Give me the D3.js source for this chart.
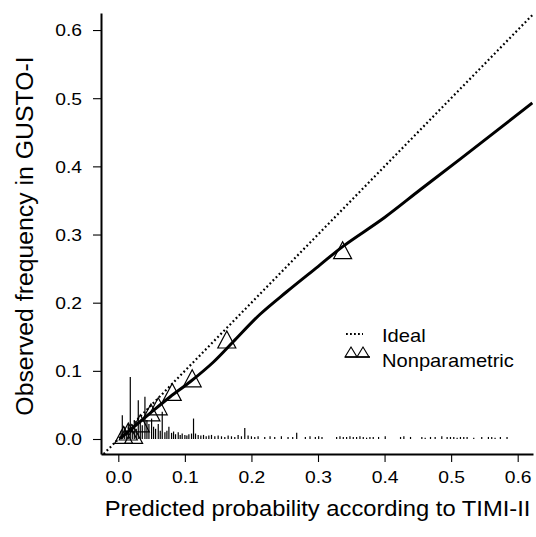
<!DOCTYPE html>
<html>
<head>
<meta charset="utf-8">
<script src="https://cdn.jsdelivr.net/npm/d3@7"></script>
<style>
  html, body { margin: 0; padding: 0; background: #fff; }
  svg { display: block; font-family: "Liberation Sans", Arial, Helvetica, sans-serif; }
</style>
</head>
<body>
<div id="chart"></div>
<script>
/* Calibration plot: TIMI-II predictions checked against GUSTO-I outcomes.
   Dotted = ideal line, solid = nonparametric smoother, triangles = risk
   groups, spikes along the bottom = distribution of predictions. */

const xTicks = [0, 0.1, 0.2, 0.3, 0.4, 0.5, 0.6];
const yTicks = [0, 0.1, 0.2, 0.3, 0.4, 0.5, 0.6];

// grouped observed vs predicted (triangles)
const groupPred = [0.008, 0.015, 0.023, 0.033, 0.049, 0.060, 0.081, 0.111, 0.163, 0.337];
const groupObs  = [0.006, 0.011, 0.006, 0.023, 0.039, 0.048, 0.069, 0.089, 0.146, 0.277];

// nonparametric calibration curve
const smoothPred = [0.003, 0.048, 0.078, 0.108, 0.143, 0.173, 0.213, 0.253, 0.300, 0.338, 0.400, 0.454, 0.514, 0.622];
const smoothObs  = [0.001, 0.038, 0.062, 0.084, 0.113, 0.143, 0.183, 0.216, 0.253, 0.283, 0.325, 0.366, 0.411, 0.493];

// spike histogram of predicted probabilities
const spikeX = [0.004, 0.006, 0.009, 0.012, 0.015, 0.018, 0.021, 0.024, 0.027, 0.030,
  0.033, 0.036, 0.040, 0.043, 0.046, 0.050, 0.053, 0.056, 0.060, 0.063,
  0.066, 0.070, 0.073, 0.076, 0.080, 0.083, 0.086, 0.090, 0.093, 0.096,
  0.100, 0.103, 0.106, 0.110, 0.113, 0.116, 0.120, 0.124, 0.128, 0.132,
  0.136, 0.140, 0.145, 0.150, 0.155, 0.160, 0.165, 0.170, 0.175, 0.180,
  0.185, 0.190, 0.195, 0.200, 0.205, 0.210, 0.220, 0.228, 0.235, 0.245,
  0.255, 0.262, 0.268, 0.281, 0.288, 0.296, 0.301, 0.306, 0.328, 0.333,
  0.338, 0.343, 0.348, 0.353, 0.358, 0.363, 0.368, 0.373, 0.378, 0.383,
  0.391, 0.401, 0.424, 0.429, 0.439, 0.456, 0.461, 0.469, 0.476, 0.486,
  0.494, 0.499, 0.504, 0.509, 0.514, 0.519, 0.524, 0.534, 0.546, 0.556,
  0.561, 0.566, 0.574, 0.584];
const spikeH = [0.012, 0.035, 0.018, 0.012, 0.022, 0.091, 0.020, 0.028, 0.015, 0.057,
  0.026, 0.020, 0.062, 0.028, 0.022, 0.030, 0.018, 0.015, 0.022, 0.012,
  0.040, 0.010, 0.012, 0.018, 0.009, 0.011, 0.007, 0.010, 0.006, 0.008,
  0.006, 0.005, 0.007, 0.008, 0.030, 0.008, 0.006, 0.005, 0.006, 0.004,
  0.005, 0.006, 0.004, 0.005, 0.004, 0.003, 0.005, 0.004, 0.003, 0.006,
  0.004, 0.016, 0.005, 0.004, 0.003, 0.004, 0.003, 0.004, 0.003, 0.004,
  0.003, 0.003, 0.009, 0.003, 0.004, 0.003, 0.004, 0.003, 0.003, 0.004,
  0.003, 0.003, 0.004, 0.003, 0.003, 0.004, 0.003, 0.002, 0.003, 0.003,
  0.003, 0.004, 0.003, 0.004, 0.003, 0.003, 0.002, 0.003, 0.003, 0.004,
  0.003, 0.003, 0.003, 0.002, 0.003, 0.003, 0.003, 0.002, 0.003, 0.003,
  0.003, 0.002, 0.003, 0.003];

const legendLabels = ['Ideal', 'Nonparametric'];

(function(){
  const W = 536, H = 537;
  const svg = d3.select('#chart').append('svg').attr('width', W).attr('height', H);
  svg.append('rect').attr('width', W).attr('height', H).attr('fill', '#fff');

  // plot region runs a bit past 0 and 0.6 on both axes
  const x = d3.scaleLinear().domain([-0.026, 0.623]).range([101, 533]);
  const y = d3.scaleLinear().domain([-0.022, 0.625]).range([454, 13]);
  const SX = 1.17; // the source is stretched sideways a little

  svg.append('clipPath').attr('id', 'plotclip').append('rect')
    .attr('x', x.range()[0]).attr('y', y.range()[1])
    .attr('width', x.range()[1] - x.range()[0]).attr('height', y.range()[0] - y.range()[1]);
  const plot = svg.append('g').attr('clip-path', 'url(#plotclip)');

  // spikes
  plot.append('g').selectAll('line').data(spikeX).join('line')
    .attr('x1', d => x(d)).attr('x2', d => x(d))
    .attr('y1', y(0)).attr('y2', (d, i) => y(spikeH[i]))
    .attr('stroke', '#000').attr('stroke-width', 1.2);

  // ideal line y = x
  const lo = Math.max(x.domain()[0], y.domain()[0]);
  const hi = Math.min(x.domain()[1], y.domain()[1]);
  plot.append('line')
    .attr('x1', x(lo)).attr('y1', y(lo)).attr('x2', x(hi)).attr('y2', y(hi))
    .attr('stroke', '#000').attr('stroke-width', 2.2)
    .attr('stroke-dasharray', '1.8,2.6');

  // nonparametric curve
  const line = d3.line().x(d => x(d[0])).y(d => y(d[1])).curve(d3.curveCatmullRom.alpha(0.5));
  plot.append('path').datum(smoothPred.map((p, i) => [p, smoothObs[i]]))
    .attr('d', line).attr('fill', 'none').attr('stroke', '#000').attr('stroke-width', 3)
    .attr('stroke-linejoin', 'round');

  // grouped triangles
  const tri = (hw, hh) => `M0,${-hh}L${hw},${hh}L${-hw},${hh}Z`;
  plot.append('g').selectAll('path').data(groupPred).join('path')
    .attr('transform', (d, i) => `translate(${x(d)},${y(groupObs[i])})`)
    .attr('d', tri(9, 8.5))
    .attr('fill', 'none').attr('stroke', '#000').attr('stroke-width', 1.2);

  // axes
  const gx = svg.append('g').attr('transform', `translate(0,${y.range()[0]})`)
    .call(d3.axisBottom(x).tickValues(xTicks).tickSize(8).tickSizeOuter(0).tickFormat(d3.format('.1f')))
    .attr('font-size', null).attr('font-family', null);
  gx.select('.domain').attr('stroke-width', 1.8);
  gx.selectAll('.tick line').attr('stroke-width', 1.1);
  gx.selectAll('.tick text').attr('y', 29).attr('dy', null)
    .attr('font-size', 16.5).attr('fill', '#000').attr('transform', `scale(${SX},1)`);

  const gy = svg.append('g').attr('transform', `translate(${x.range()[0]},0)`)
    .call(d3.axisLeft(y).tickValues(yTicks).tickSize(8).tickSizeOuter(0).tickFormat(d3.format('.1f')))
    .attr('font-size', null).attr('font-family', null);
  gy.select('.domain').attr('stroke-width', 2);
  gy.selectAll('.tick line').attr('stroke-width', 1.1);
  gy.selectAll('.tick text').attr('x', -19 / SX).attr('dy', '0.36em')
    .attr('font-size', 16.5).attr('fill', '#000').attr('transform', `scale(${SX},1)`);

  // axis titles
  svg.append('text')
    .attr('transform', 'translate(317.5,516) scale(1.08,1)')
    .attr('text-anchor', 'middle').attr('font-size', 22)
    .text('Predicted probability according to TIMI-II');
  svg.append('text')
    .attr('transform', 'translate(33,236) rotate(-90)')
    .attr('text-anchor', 'middle').attr('font-size', 24.8)
    .text('Observed frequency in GUSTO-I');

  // legend
  const lg = svg.append('g');
  lg.append('line').attr('x1', 346).attr('x2', 363).attr('y1', 334).attr('y2', 334)
    .attr('stroke', '#000').attr('stroke-width', 1.8).attr('stroke-dasharray', '1.8,2.2');
  lg.append('line').attr('x1', 345).attr('x2', 370).attr('y1', 357).attr('y2', 357)
    .attr('stroke', '#000').attr('stroke-width', 1.6);
  lg.selectAll('path').data([351, 363]).join('path')
    .attr('transform', d => `translate(${d},352)`)
    .attr('d', tri(6, 5))
    .attr('fill', 'none').attr('stroke', '#000').attr('stroke-width', 1.1);
  lg.selectAll('text').data(legendLabels).join('text')
    .attr('transform', (d, i) => `translate(382,${341.5 + i * 25}) scale(1.15,1)`)
    .attr('font-size', 17.5)
    .text(d => d);
})();
</script>
</body>
</html>
